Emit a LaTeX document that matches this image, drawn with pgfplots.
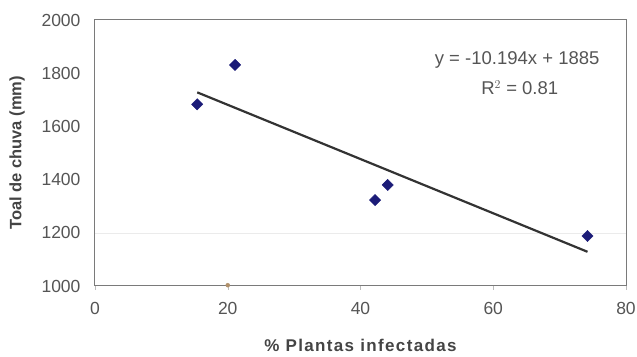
\documentclass[border=0pt]{standalone}
\usepackage{pgfplots}
\pgfplotsset{compat=1.18}
\usepackage{fontspec}
\setmainfont{Liberation Sans}
\newfontfamily\spaced[LetterSpace=8]{Liberation Sans}
\definecolor{txt}{HTML}{555555}
\definecolor{lab}{HTML}{444444}
\definecolor{frame}{HTML}{7A7A7A}
\definecolor{navy}{HTML}{1C1C78}
\definecolor{trend}{HTML}{333333}
\definecolor{dot}{HTML}{B0906A}
\begin{document}
\begin{tikzpicture}[x=1pt,y=1pt]
\path[use as bounding box] (0,0) rectangle (637,356);
\begin{axis}[
  at={(95pt,70pt)}, anchor=south west,
  scale only axis, width=531pt, height=266pt,
  xmin=0, xmax=80, ymin=1000, ymax=2000,
  xtick={0,20,...,80}, ytick={1000,1200,...,2000},
  axis line style={frame, line width=1pt},
  tick style={frame!50, line width=0.5pt},
  major tick length=4pt, tick align=outside,
  ytick style={draw=none},
  xtick pos=bottom, ytick pos=left,
  extra y ticks={1200}, extra y tick labels={},
  extra y tick style={grid=major, major grid style={black!8, line width=0.5pt}},
  /pgf/number format/assume math mode=true,
  /pgf/number format/set thousands separator={},
  tick label style={font=\fontsize{17.5}{20}\selectfont, text=txt},
  yticklabel style={xshift=-7pt},
  xticklabel style={yshift=-9pt},
  xlabel={\% Plantas infectadas},
  ylabel={Toal de chuva (mm)},
  xlabel style={font=\fontsize{17}{20}\selectfont\spaced\bfseries, text=lab, at={(axis description cs:0.5,0)}, anchor=center, yshift=-59pt},
  ylabel style={font=\fontsize{16.5}{20}\selectfont\bfseries, text=lab, at={(axis description cs:0,0.5)}, anchor=center, yshift=78pt},
  clip=false,
]
\addplot[only marks, mark=square*, mark size=4pt, mark options={rotate=45}, color=navy] coordinates {
  (15.4,1683) (21.1,1831) (42.2,1323) (44.1,1380) (74.2,1188)
};
\addplot[only marks, mark=*, mark size=2pt, color=dot] coordinates {(20,1003)};
\addplot[trend, line width=2.2pt] coordinates {(15.4,1728.0) (74.2,1128.6)};
\node[font=\fontsize{18.5}{21}\selectfont, text=txt] at (axis cs:63.6,1850) {y = -10.194x + 1885};
\node[font=\fontsize{18.5}{21}\selectfont, text=txt] at (axis cs:64.0,1745) {R$^{2}$ = 0.81};
\end{axis}
\end{tikzpicture}
\end{document}
